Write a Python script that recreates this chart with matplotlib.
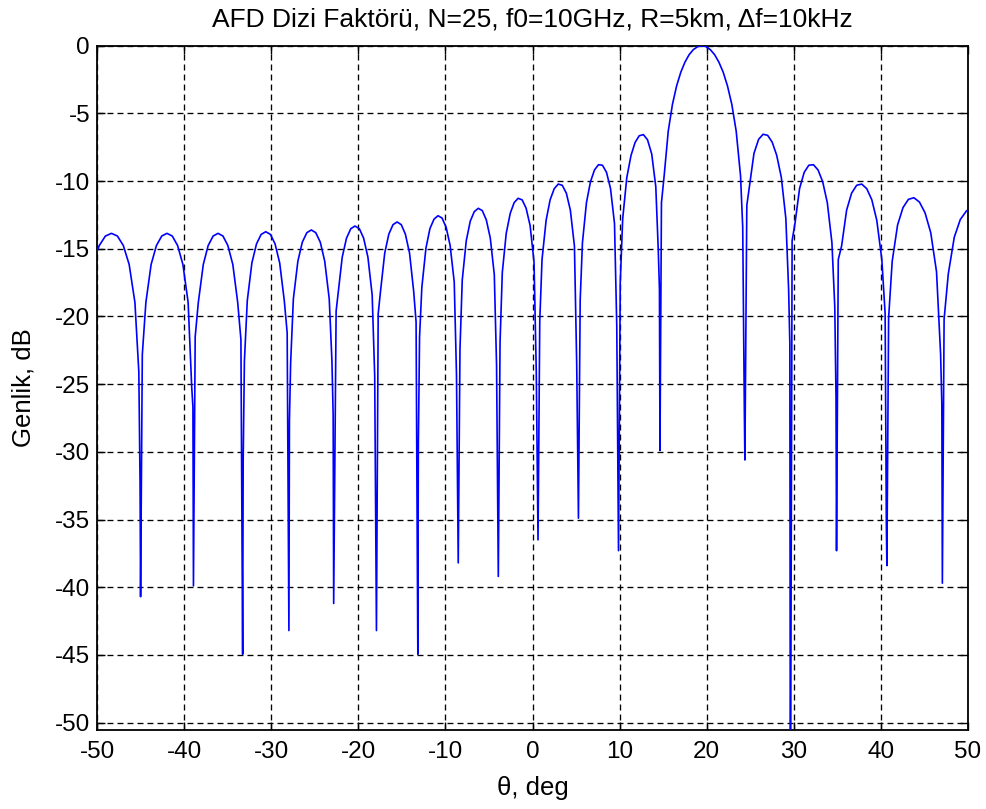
import matplotlib
matplotlib.use("Agg")
import matplotlib.pyplot as plt

plt.rcParams['font.family'] = ['Liberation Sans', 'DejaVu Sans']
plt.rcParams['lines.scale_dashes'] = False
plt.rcParams['axes.unicode_minus'] = False

# FDA array factor, N=25 elements (gain in dB vs. angle)
# one row per lobe, null rows hold the samples around each zero
theta_deg = [
    -50.0, -49.74, -49.04, -48.34, -47.66, -46.98, -46.31, -45.65,
    -45.2, -45.06, -45.0, -44.8,
    -44.39, -43.79, -43.18, -42.57, -41.97, -41.36, -40.75, -40.14, -39.54,
    -39.13, -38.99, -38.93, -38.73,
    -38.37, -37.80, -37.24, -36.67, -36.11, -35.54, -34.98, -34.41, -33.85,
    -33.48, -33.28, -33.22, -33.08,
    -32.75, -32.22, -31.69, -31.16, -30.63, -30.09, -29.56, -29.03, -28.50,
    -28.17, -27.97, -27.91, -27.77,
    -27.46, -26.94, -26.43, -25.91, -25.40, -24.89, -24.37, -23.86, -23.34,
    -23.03, -22.89, -22.83, -22.55,
    -22.34, -21.85, -21.36, -20.87, -20.38, -19.88, -19.39, -18.90, -18.41,
    -18.12, -17.92, -17.72,
    -17.45, -16.97, -16.50, -16.02, -15.55, -15.07, -14.60, -14.12, -13.65,
    -13.37, -13.17, -13.11, -12.97,
    -12.71, -12.24, -11.78, -11.31, -10.85, -10.39, -9.92, -9.46, -8.99,
    -8.73, -8.53, -8.33,
    -8.07, -7.61, -7.15, -6.69, -6.23, -5.77, -5.31, -4.85, -4.39,
    -4.13, -3.93, -3.73,
    -3.47, -3.02, -2.56, -2.11, -1.65, -1.19, -0.74, -0.28, 0.17,
    0.43, 0.63, 0.83,
    1.09, 1.56, 2.02, 2.49, 2.95, 3.41, 3.88, 4.34, 4.81,
    5.07, 5.27, 5.47,
    5.73, 6.19, 6.65, 7.11, 7.57, 8.03, 8.49, 8.95, 9.41,
    9.67, 9.87, 10.07,
    10.35, 10.82, 11.30, 11.77, 12.25, 12.73, 13.20, 13.68, 14.15,
    14.43, 14.57, 14.63, 14.80,
    15.11, 15.58, 16.06, 16.54, 17.02, 17.50, 17.98, 18.46, 18.95, 19.43,
    19.92, 20.41, 20.90, 21.39, 21.89, 22.38, 22.88, 23.38, 23.88,
    24.13, 24.32, 24.38, 24.60,
    24.90, 25.42, 25.95, 26.47, 26.99, 27.51, 28.03, 28.56, 29.08,
    29.40, 29.54, 29.60, 29.80,
    30.13, 30.66, 31.19, 31.72, 32.25, 32.78, 33.31, 33.84, 34.37,
    34.70, 34.84, 34.90, 35.10,
    35.48, 36.06, 36.63, 37.21, 37.79, 38.37, 38.95, 39.52, 40.10,
    40.48, 40.62, 40.68, 40.88,
    41.29, 41.91, 42.53, 43.15, 43.78, 44.42, 45.06, 45.72, 46.38,
    46.85, 46.99, 47.05, 47.25,
    47.73, 48.42, 49.11, 49.82, 50.0,
]

gain_db = [
    -15.17, -14.76, -14.06, -13.86, -14.06, -14.76, -16.16, -18.96,
    -24.1, -32.3, -40.7, -22.8,
    -18.96, -16.16, -14.76, -14.06, -13.86, -14.06, -14.76, -16.16, -18.96,
    -25.2, -26.7, -39.9, -21.5,
    -18.96, -16.16, -14.76, -14.06, -13.86, -14.06, -14.76, -16.16, -18.96,
    -21.7, -44.95, -30.6, -23.3,
    -18.84, -16.04, -14.64, -13.94, -13.74, -13.94, -14.64, -16.04, -18.84,
    -21.2, -43.2, -27.7, -23.4,
    -18.71, -15.91, -14.51, -13.81, -13.61, -13.81, -14.51, -15.91, -18.71,
    -23.3, -27.3, -41.2, -19.6,
    -18.42, -15.62, -14.22, -13.52, -13.32, -13.52, -14.22, -15.62, -18.42,
    -24.4, -43.2, -19.8,
    -18.12, -15.32, -13.92, -13.22, -13.02, -13.22, -13.92, -15.32, -18.12,
    -20.4, -44.95, -29.4, -21.5,
    -17.86, -14.96, -13.51, -12.81, -12.56, -12.73, -13.41, -14.76, -17.46,
    -24.3, -38.2, -22.4,
    -17.31, -14.41, -12.96, -12.26, -12.01, -12.18, -12.86, -14.21, -16.91,
    -23.6, -39.2, -21.9,
    -16.74, -13.86, -12.38, -11.59, -11.27, -11.39, -12.00, -13.28, -15.97,
    -24.1, -36.5, -20.3,
    -15.79, -12.89, -11.38, -10.56, -10.22, -10.31, -10.89, -12.14, -14.80,
    -23.5, -34.9, -18.8,
    -14.54, -11.59, -10.05, -9.18, -8.79, -8.83, -9.35, -10.54, -13.13,
    -20.7, -37.3, -17.5,
    -12.78, -9.75, -8.12, -7.15, -6.65, -6.57, -6.95, -7.99, -10.41,
    -15.0, -18.0, -29.9, -11.6,
    -9.61, -6.31, -4.34, -2.97, -1.96, -1.21, -0.66, -0.29, -0.07, 0.0,
    -0.07, -0.29, -0.66, -1.21, -1.96, -2.97, -4.34, -6.31, -9.61,
    -13.4, -27.2, -30.6, -11.8,
    -10.38, -7.96, -6.92, -6.54, -6.62, -7.12, -8.09, -9.72, -12.75,
    -18.0, -22.0, -60.0, -14.4,
    -13.13, -10.54, -9.35, -8.83, -8.79, -9.18, -10.05, -11.59, -14.54,
    -19.3, -26.0, -37.3, -15.8,
    -14.80, -12.14, -10.89, -10.31, -10.22, -10.56, -11.38, -12.89, -15.79,
    -19.8, -35.4, -38.4, -20.1,
    -15.93, -13.24, -11.96, -11.35, -11.23, -11.55, -12.34, -13.82, -16.70,
    -22.8, -26.5, -39.7, -20.2,
    -16.86, -14.14, -12.84, -12.20, -12.13,
]

x_ticks = list(range(-50, 51, 10))
y_ticks = list(range(-50, 1, 5))

fig = plt.figure(figsize=(9.86, 8.09), dpi=100)
ax = fig.add_axes([0.0984, 0.0976, 0.8834, 0.8459])

ax.plot(theta_deg, gain_db, color='#0000ff', linewidth=1.2, zorder=3)

ax.set_xlim(-50, 50)
ax.set_ylim(-50.55, 0)
ax.set_xticks(x_ticks)
ax.set_yticks(y_ticks)

# MATLAB-like look: black dashed grid, inward ticks on every side
ax.grid(True, color='black', linestyle=(0, (4.3, 2.9)), linewidth=0.95)
ax.set_axisbelow(True)
ax.tick_params(direction='in', length=6, width=1.0, top=True, right=True,
               labelsize=17.5, pad=8, colors='black')
ax.tick_params(axis='y', pad=5)
for sp in ax.spines.values():
    sp.set_linewidth(1.3)

ax.set_title('AFD Dizi Faktörü, N=25, f0=10GHz, R=5km, Δf=10kHz',
             fontsize=19, pad=14)
ax.set_xlabel('θ, deg', fontsize=18.5, labelpad=9)
ax.set_ylabel('Genlik, dB', fontsize=18.5, labelpad=14)

fig.savefig('out.png', dpi=100, facecolor='white')
